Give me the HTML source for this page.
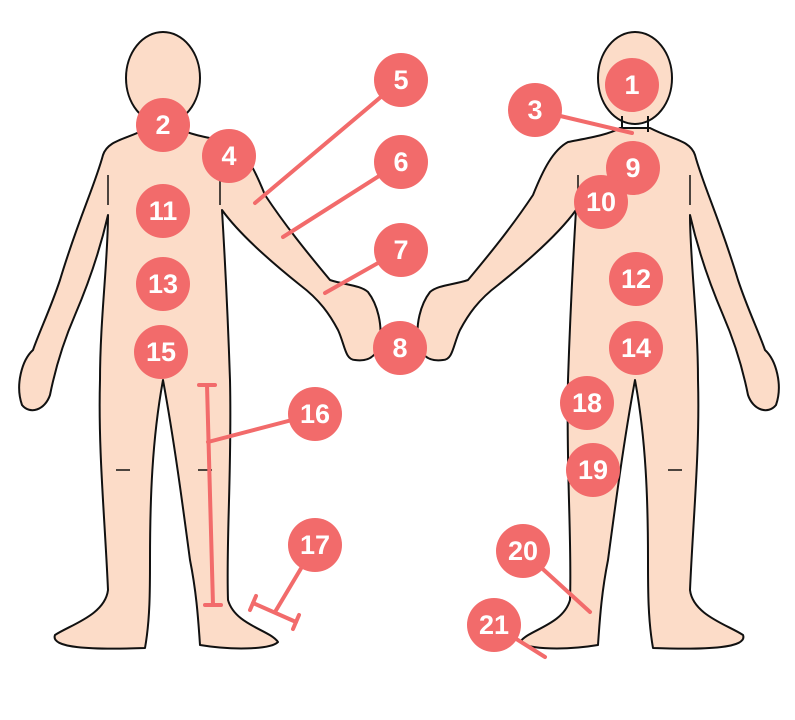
<!DOCTYPE html>
<html><head><meta charset="utf-8"><style>
html,body{margin:0;padding:0;background:#fff;}
svg{display:block}
text{font-family:"Liberation Sans",sans-serif;font-weight:bold;font-size:27px;fill:#fff;text-anchor:middle;dominant-baseline:central}
</style></head><body>
<svg width="795" height="720" viewBox="0 0 795 720">
<defs>
<g id="body">
<path d="M148,128 C125,140 108,140 103,155 C95,185 78,220 60,280 C50,310 40,330 33,350 C22,360 15,385 22,405 C30,415 45,410 50,395 C55,370 62,345 75,315 C90,280 100,250 108,215 C108,260 100,320 100,380 C98,450 105,520 108,590 C105,615 70,625 55,635 C50,648 90,650 145,648 C150,620 150,590 150,560 C150,500 152,440 163,380 C174,440 182,500 190,560 C196,590 198,615 200,645 C230,650 270,650 278,642 C270,630 235,625 228,600 C226,540 232,470 230,380 C228,320 225,260 222,210 C240,235 275,265 300,285 C320,300 330,315 338,330 C345,345 345,360 355,360 C370,362 378,355 380,340 C382,325 378,305 368,292 C360,285 345,285 330,280 C305,250 285,225 265,195 C255,170 245,150 230,142 C210,138 190,135 178,128 Z" fill="#fcdcc8" stroke="#111" stroke-width="2" stroke-linejoin="round"/>
<ellipse cx="163" cy="78" rx="37" ry="46" fill="#fcdcc8" stroke="#111" stroke-width="2"/>
<path d="M150,116 L150,132 M176,116 L176,132" stroke="#111" stroke-width="2"/>
<path d="M108,175 L108,205 M220,175 L220,205 M116,470 L130,470 M198,470 L212,470" stroke="#111" stroke-width="1.5" fill="none"/>
</g>
</defs>
<use href="#body"/>
<use href="#body" transform="translate(798,0) scale(-1,1)"/>
<g stroke="#f26b6b" stroke-width="4" fill="none" stroke-linecap="round">
<line x1="401" y1="80" x2="255" y2="203"/>
<line x1="401" y1="162" x2="283" y2="237"/>
<line x1="401" y1="250" x2="325" y2="293"/>
<line x1="535" y1="110" x2="632" y2="133"/>
<line x1="207" y1="385" x2="213" y2="605"/>
<line x1="199" y1="385" x2="215" y2="385"/>
<line x1="205" y1="605" x2="221" y2="605"/>
<line x1="208" y1="442" x2="315" y2="414"/>
<line x1="253" y1="603" x2="296" y2="622"/>
<line x1="250" y1="610" x2="256" y2="596"/>
<line x1="293" y1="629" x2="299" y2="615"/>
<line x1="275" y1="612" x2="315" y2="545"/>
<line x1="523" y1="551" x2="590" y2="612"/>
<line x1="494" y1="625" x2="545" y2="657"/>
</g>
<g fill="#f26b6b">
<circle cx="632" cy="85" r="27"/><circle cx="163" cy="125" r="27"/><circle cx="535" cy="110" r="27"/>
<circle cx="229" cy="156" r="27"/><circle cx="401" cy="80" r="27"/><circle cx="401" cy="162" r="27"/>
<circle cx="401" cy="250" r="27"/><circle cx="400" cy="348" r="27"/><circle cx="633" cy="168" r="27"/>
<circle cx="601" cy="202" r="27"/><circle cx="163" cy="211" r="27"/><circle cx="636" cy="279" r="27"/>
<circle cx="163" cy="284" r="27"/><circle cx="636" cy="348" r="27"/><circle cx="161" cy="352" r="27"/>
<circle cx="315" cy="414" r="27"/><circle cx="315" cy="545" r="27"/><circle cx="587" cy="403" r="27"/>
<circle cx="593" cy="470" r="27"/><circle cx="523" cy="551" r="27"/><circle cx="494" cy="625" r="27"/>
</g>
<text x="632" y="85">1</text><text x="163" y="125">2</text><text x="535" y="110">3</text>
<text x="229" y="156">4</text><text x="401" y="80">5</text><text x="401" y="162">6</text>
<text x="401" y="250">7</text><text x="400" y="348">8</text><text x="633" y="168">9</text>
<text x="601" y="202">10</text><text x="163" y="211">11</text><text x="636" y="279">12</text>
<text x="163" y="284">13</text><text x="636" y="348">14</text><text x="161" y="352">15</text>
<text x="315" y="414">16</text><text x="315" y="545">17</text><text x="587" y="403">18</text>
<text x="593" y="470">19</text><text x="523" y="551">20</text><text x="494" y="625">21</text>
</svg>
</body></html>
